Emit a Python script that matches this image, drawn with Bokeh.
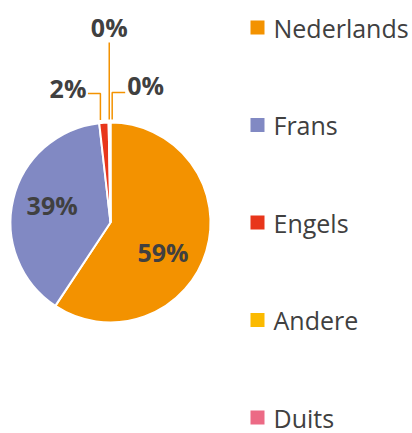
import math
from bokeh.plotting import figure
from bokeh.models import Range1d, ColumnDataSource
from bokeh.core.properties import value
from bokeh.embed import file_html
from bokeh.resources import INLINE

# ---- data ----
categories = ["Nederlands", "Frans", "Engels", "Andere", "Duits"]
shares = [59.3, 38.9, 1.5, 0.2, 0.1]
colors = ["#F39200", "#8189C3", "#E8361B", "#FBBA00", "#EC6A85"]

# ---- layout ----
W, H = 412, 433
CX, CY, R = 110, 211, 100          # pie centre / radius (data units = px)
FONT = "Open Sans"
TXT = "#404040"

p = figure(width=W, height=H, output_backend="svg", toolbar_location=None,
           x_range=Range1d(0, W), y_range=Range1d(0, H), min_border=0,
           x_axis_type=None, y_axis_type=None)
p.grid.visible = False
p.outline_line_color = None
p.background_fill_color = "white"

total = sum(shares)
starts, ends, mids = [], [], []
acc = 0.0
for s in shares:
    t0 = acc / total * 2 * math.pi
    acc += s
    t1 = acc / total * 2 * math.pi
    # clockwise from 12 o'clock -> bokeh angle (ccw from +x)
    starts.append(math.pi / 2 - t1)
    ends.append(math.pi / 2 - t0)
    mids.append((t0 + t1) / 2)

src = ColumnDataSource(dict(start=starts, end=ends, color=colors, cat=categories))
p.wedge(x=CX, y=CY, radius=R, start_angle="start", end_angle="end",
        fill_color="color", line_color="white", line_width=2, source=src)

pct = [f"{round(s / total * 100):d}%" for s in shares]

# inside labels (two large slices)
inner_nudge = {0: (-5, -12), 1: (0, 3)}
for i, (dx, dy) in inner_nudge.items():
    lx = CX + 0.6 * R * math.sin(mids[i]) + dx
    ly = CY + 0.6 * R * math.cos(mids[i]) + dy
    p.text(x=[lx], y=[ly], text=[pct[i]], text_font=value(FONT),
           text_font_size="25px", text_font_style="bold", text_color=TXT,
           text_align="center", text_baseline="middle")

# outside labels with leader lines for the small slices
# (index: x nudge of leader, elbow height above pie centre, label side)
outer = {2: (-3.5, 129, "left"), 3: (0, 0, "top"), 4: (2, 130, "right")}
for i, (nx, elbow, side) in outer.items():
    lx = CX + R * math.sin(mids[i]) + nx
    ey = CY + math.sqrt((R + 3) ** 2 - (lx - CX) ** 2)
    if side == "top":
        xs, ys = [lx, lx], [ey, CY + 180]
        tx, ty, al = lx, CY + 196, "center"
    elif side == "left":
        xs, ys = [lx, lx, lx - 12.5], [ey, CY + elbow, CY + elbow]
        tx, ty, al = lx - 14, CY + elbow + 6, "right"
    else:
        xs, ys = [lx, lx, lx + 13], [ey, CY + elbow, CY + elbow]
        tx, ty, al = lx + 15, CY + elbow + 8, "left"
    p.line(x=xs, y=ys, line_color=colors[0], line_width=1.5)
    p.text(x=[tx], y=[ty], text=[pct[i]], text_font=value(FONT),
           text_font_size="25px", text_font_style="bold", text_color=TXT,
           text_align=al, text_baseline="middle")

# legend (manual)
LX, LY0, STEP = 257, 406, 97.5
ly = [LY0 - k * STEP for k in range(len(categories))]
p.rect(x=[LX] * len(categories), y=ly, width=14, height=14,
       fill_color=colors, line_color=None)
p.text(x=[LX + 16] * len(categories), y=ly, text=categories,
       text_font=value(FONT), text_font_size="25px", text_color=TXT,
       text_align="left", text_baseline="middle")

open("out.html", "w").write(file_html(p, INLINE))
